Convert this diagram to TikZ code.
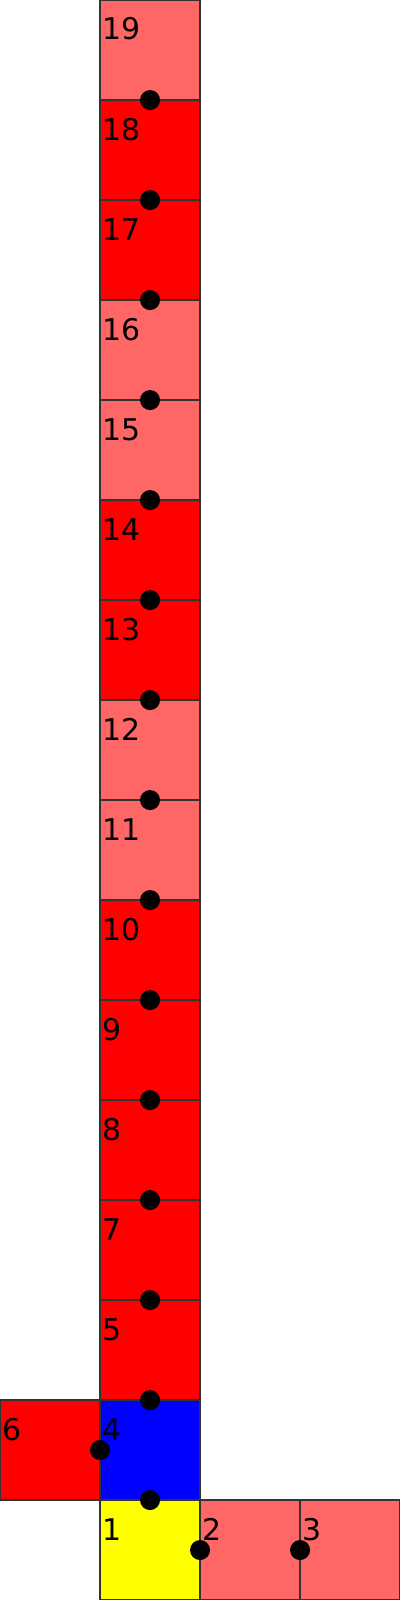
\documentclass[tikz,border=0pt]{standalone}
\usepackage{fontspec}
\setmainfont{DejaVu Sans}
\definecolor{lr}{HTML}{FF6666}
\definecolor{rd}{HTML}{FF0000}
\definecolor{bl}{HTML}{0000FF}
\definecolor{ye}{HTML}{FFFF00}
\begin{document}
\begin{tikzpicture}[x=0.01cm,y=-0.01cm,
  sq/.style={minimum size=1cm, inner sep=0pt, outer sep=0pt, anchor=north west},
  edge/.style={draw=black!80, line width=0.012cm},
  lbl/.style={anchor=base west, inner sep=0pt, outer sep=0pt, font=\fontsize{8.5pt}{10pt}\selectfont},
  dotn/.style={circle, fill=black, minimum size=0.2cm, inner sep=0pt}]
\fill[white] (0,0) rectangle (400,1600);
\useasboundingbox (0,0) rectangle (400,1600);
% column of squares 19..5
\foreach \n/\c [count=\i from 0] in {19/lr,18/rd,17/rd,16/lr,15/lr,14/rd,13/rd,12/lr,11/lr,10/rd,9/rd,8/rd,7/rd,5/rd}{
  \node[sq,fill=\c] (s\n) at (100,\i*100) {};
}
\node[sq,fill=bl] (s4) at (100,1400) {};
\node[sq,fill=rd] (s6) at (0,1400) {};
\node[sq,fill=ye] (s1) at (100,1500) {};
\node[sq,fill=lr] (s2) at (200,1500) {};
\node[sq,fill=lr] (s3) at (300,1500) {};
% outlines, drawn after all fills
\foreach \n in {19,18,17,16,15,14,13,12,11,10,9,8,7,5,4,6,1,2,3}{
  \draw[edge] (s\n.north west) rectangle (s\n.south east);
}
% labels
\foreach \n in {19,18,17,16,15,14,13,12,11,10,9,8,7,5,4,6,1,2,3}{
  \node[lbl] (t\n) at ([shift={(2,40)}]s\n.north west) {\n};
}
% joints
\foreach \n in {19,18,17,16,15,14,13,12,11,10,9,8,7,5,4}{
  \node[dotn] (d\n) at (s\n.south) {};
}
\node[dotn] (d6) at (s4.west) {};
\node[dotn] (d1) at (s1.east) {};
\node[dotn] (d2) at (s2.east) {};
\end{tikzpicture}
\end{document}
